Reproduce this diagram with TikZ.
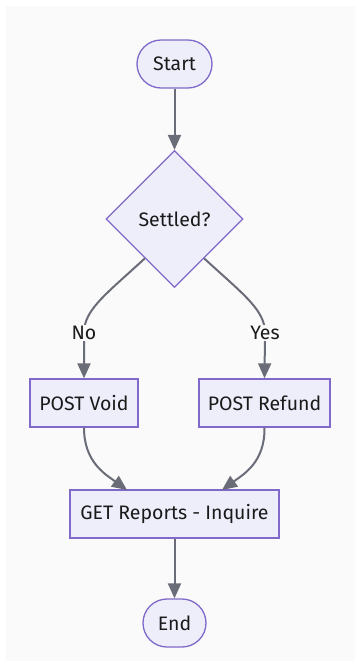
\documentclass[tikz,border=0pt]{standalone}
\usepackage{fontspec}
\setmainfont{Fira Sans}
\usetikzlibrary{shapes.geometric,arrows.meta}
\definecolor{bgc}{HTML}{FAFAFA}
\definecolor{nodefill}{HTML}{EEEEFB}
\definecolor{nodedraw}{HTML}{8069C8}
\definecolor{edgec}{HTML}{6A6D78}
\definecolor{txt}{HTML}{1A1A1A}
\tikzset{
  base/.style={draw=nodedraw, fill=nodefill, line width=1.3pt, text=txt, font=\fontsize{19.5}{22}\selectfont, inner sep=0pt},
  proc/.style={base, rectangle, minimum height=48pt},
  term/.style={base, rectangle, rounded corners=24pt, minimum height=48pt},
  decis/.style={base, diamond, aspect=1, minimum size=137pt},
  edge/.style={draw=edgec, line width=2pt, -{Triangle[length=15pt,width=13pt]}},
  lbl/.style={fill=bgc, text=txt, font=\fontsize{19.5}{22}\selectfont, inner sep=1pt}
}
\begin{document}
\begin{tikzpicture}[x=1pt,y=-1pt]
\useasboundingbox (0,0) rectangle (359,667);
\fill[white] (0,0) rectangle (359,667);
\fill[bgc] (6,6) rectangle (355,661);
\node[term, minimum width=75pt] (start) at (174.5,64) {Start};
\node[decis] (settled) at (174.5,219) {Settled?};
\node[proc, minimum width=108pt] (void) at (84,403) {POST Void};
\node[proc, minimum width=131pt] (refund) at (264.5,403) {POST Refund};
\node[proc, minimum width=209pt] (get) at (174.5,514) {GET Reports - Inquire};
\node[term, minimum width=63pt] (end) at (174.5,623) {End};
\coordinate (nopt) at (84,333);
\coordinate (yespt) at (265,333);
\draw[edge] (start.south) -- (settled.north);
\draw[edge] (settled.-127) .. controls (105,295) and (84,310) .. (nopt) -- (void.north);
\draw[edge] (settled.-53) .. controls (244,295) and (265,310) .. (yespt) -- (refund.north);
\node[lbl] (nolbl) at (nopt) {No};
\node[lbl] (yeslbl) at (yespt) {Yes};
\draw[edge] (void.south) .. controls (84,462) and (105,474) .. (127,490);
\draw[edge] (refund.south) .. controls (265,462) and (244,474) .. (222,490);
\draw[edge] (get.south) -- (end.north);
\end{tikzpicture}
\end{document}
